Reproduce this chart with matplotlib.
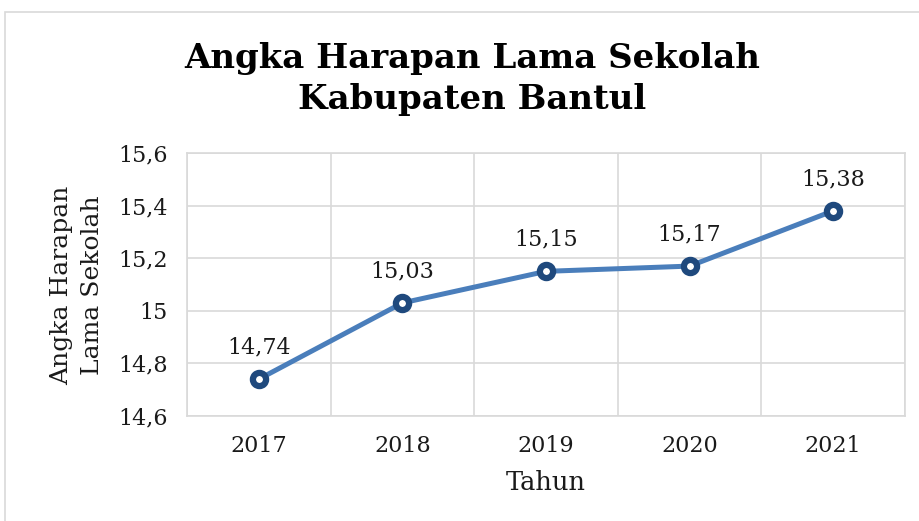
import numpy as np
import matplotlib.pyplot as plt
from matplotlib.patches import Rectangle

# data
years = ["2017", "2018", "2019", "2020", "2021"]
values = [14.74, 15.03, 15.15, 15.17, 15.38]
value_labels = ["14,74", "15,03", "15,15", "15,17", "15,38"]
y_ticks = [14.6, 14.8, 15.0, 15.2, 15.4, 15.6]
y_tick_labels = ["14,6", "14,8", "15", "15,2", "15,4", "15,6"]

plt.rcParams['font.family'] = 'DejaVu Serif'

W, H = 919, 521
fig = plt.figure(figsize=(W / 100, H / 100), dpi=100)

# outer chart border (runs off the right and bottom edge)
fig.patches.append(Rectangle((5 / W, -0.1), 1.2, 1 - 12 / H + 0.1,
                             transform=fig.transFigure, fill=False,
                             edgecolor="#d9d9d9", lw=1.2))

ax = fig.add_axes([187 / W, 1 - 416 / H, (905 - 187) / W, (416 - 153) / H])

x = np.arange(len(years))
ax.plot(x, values, color="#4a7ebb", lw=3.6, zorder=3,
        marker="o", markersize=9.5, markerfacecolor="white",
        markeredgecolor="#1f497d", markeredgewidth=4.5)

for xi, v, lab in zip(x, values, value_labels):
    ax.annotate(lab, (xi, v), xytext=(0, 15), textcoords="offset points",
                ha="center", va="bottom", fontsize=16, color="#1a1a1a")

ax.set_xlim(-0.5, len(years) - 0.5)
ax.set_ylim(14.6, 15.6)
ax.set_yticks(y_ticks)
ax.set_yticklabels(y_tick_labels)
ax.set_xticks(x)
ax.set_xticklabels(years)
ax.set_xticks(np.arange(-0.5, len(years)), minor=True)
ax.tick_params(axis="both", which="both", length=0, labelsize=16,
               colors="#1a1a1a")
ax.tick_params(axis="y", pad=14)
ax.tick_params(axis="x", pad=14)

ax.grid(axis="y", which="major", color="#d9d9d9", lw=1.2)
ax.grid(axis="x", which="minor", color="#d9d9d9", lw=1.2)
ax.grid(axis="x", which="major", visible=False)
for s in ax.spines.values():
    s.set_color("#d9d9d9")
    s.set_linewidth(1.2)

ax.set_xlabel("Tahun", fontsize=18.5, labelpad=9, color="#1a1a1a")
fig.text(77 / W, 1 - 285 / H, "Angka Harapan\nLama Sekolah", rotation=90,
         ha="center", va="center", fontsize=18, color="#1a1a1a",
         linespacing=1.4)

fig.text(472 / W, 1 - 79 / H, "Angka Harapan Lama Sekolah\nKabupaten Bantul",
         ha="center", va="center", fontsize=24.5, fontweight="bold",
         linespacing=1.3)

fig.savefig("out.png", dpi=100)
